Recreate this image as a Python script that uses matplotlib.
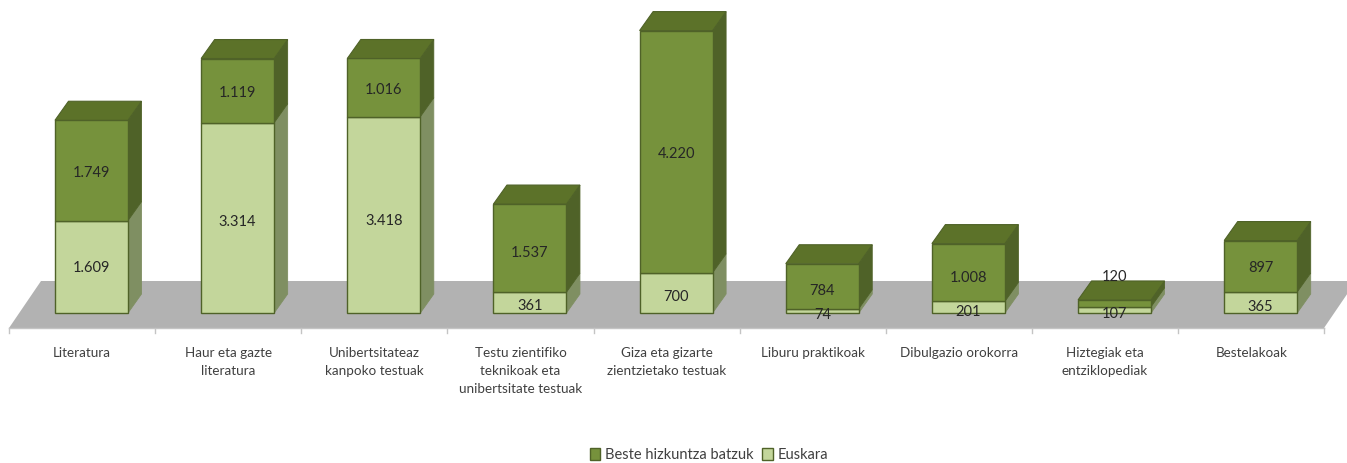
import matplotlib
matplotlib.use('Agg')
import matplotlib.pyplot as plt
from matplotlib.patches import Patch

categories = ['Literatura', 'Haur eta gazte\nliteratura', 'Unibertsitateaz\nkanpoko testuak',
              'Testu zientifiko\nteknikoak eta\nunibertsitate testuak',
              'Giza eta gizarte\nzientzietako testuak', 'Liburu praktikoak',
              'Dibulgazio orokorra', 'Hiztegiak eta\nentziklopediak', 'Bestelakoak']
euskara = [1609, 3314, 3418, 361, 700, 74, 201, 107, 365]
beste = [1749, 1119, 1016, 1537, 4220, 784, 1008, 120, 897]

W, H = 1347, 463
PX_PER_CAT = 146.15
PX_PER_VAL = 0.0574
X0_PX = 91.5   # centre of first bar
Y0_PX = 313    # base of the bars


# pixel position to data position, only for the fake 3D frame
def px_x(p):
    return (p - X0_PX) / PX_PER_CAT


def px_y(p):
    return (Y0_PX - p) / PX_PER_VAL


plt.rcParams['font.family'] = 'Lato'

fig = plt.figure(figsize=(W / 100, H / 100), dpi=100)
ax = fig.add_axes([0, 0, 1, 1])
ax.set_xlim(px_x(0), px_x(W))
ax.set_ylim(px_y(H), px_y(0))
ax.axis('off')

# floor
ax.fill([px_x(9), px_x(1324), px_x(1356), px_x(41)],
        [px_y(328), px_y(328), px_y(281), px_y(281)], color='#b2b2b2', lw=0, zorder=1)
ax.plot([px_x(9), px_x(1324)], [px_y(328), px_y(328)], color='#c4c4c4', lw=1, zorder=1)
for i in range(len(categories) + 1):
    tx = px_x(9 + i * PX_PER_CAT)
    ax.plot([tx, tx], [px_y(328), px_y(333)], color='#c4c4c4', lw=1, zorder=1)

bar_w = 73 / PX_PER_CAT
dx = 13.5 / PX_PER_CAT
dy = 19 / PX_PER_VAL
edge = '#4f6228'


def draw_segment(i, bottom, height, front, side, z):
    right = i + bar_w / 2
    top = bottom + height
    ax.fill([right, right + dx, right + dx, right], [bottom, bottom + dy, top + dy, top],
            facecolor=side, edgecolor=side, lw=0.6, zorder=z)
    ax.bar(i, height, bar_w, bottom=bottom, color=front, edgecolor=edge, lw=1.0, zorder=z + 0.1)


for i in range(len(categories)):
    z = 2 + i
    draw_segment(i, 0, euskara[i], '#c3d69b', '#7f8f62', z)
    draw_segment(i, euskara[i], beste[i], '#76923c', '#4f6228', z + 0.2)
    left = i - bar_w / 2
    right = i + bar_w / 2
    total = euskara[i] + beste[i]
    ax.fill([left, right, right + dx, left + dx], [total, total, total + dy, total + dy],
            facecolor='#5c7229', edgecolor='#4f6228', lw=0.8, zorder=z + 0.4)

# value labels, a few are pushed off the centre like in the original (offsets in px)
low_nudge = {1: -3, 2: -5, 3: -2, 4: -3, 5: -3, 6: -3, 7: -3, 8: -3}
top_nudge = {0: -1, 1: -1, 2: -1, 3: -3, 4: -1, 5: -3, 6: -4, 7: 28}
for i in range(len(categories)):
    ax.annotate(f'{euskara[i]:,}'.replace(',', '.'), (i, euskara[i] / 2),
                xytext=(0, (low_nudge.get(i, 0) - 1.5) * 0.72), textcoords='offset points',
                ha='center', va='center', fontsize=10.5, color='#262626', zorder=20)
    ax.annotate(f'{beste[i]:,}'.replace(',', '.'), (i, euskara[i] + beste[i] / 2),
                xytext=(0, (top_nudge.get(i, 0) - 1.5) * 0.72), textcoords='offset points',
                ha='center', va='center', fontsize=10.5, color='#262626', zorder=20)

# category labels
for i, name in enumerate(categories):
    ax.text(px_x(82 + i * PX_PER_CAT), px_y(347), name, ha='center', va='top',
            fontsize=9.7, color='#404040', linespacing=1.58)

handles = [Patch(facecolor='#76923c', edgecolor=edge, label='Beste hizkuntza batzuk'),
           Patch(facecolor='#c3d69b', edgecolor=edge, label='Euskara')]
ax.legend(handles=handles, loc='center', bbox_to_anchor=(709 / W, 1 - 455 / H), ncol=2,
          frameon=False, fontsize=10.5, handlelength=0.7, handleheight=0.8, handletextpad=0.35,
          columnspacing=0.6, labelcolor='#404040', borderpad=0)

plt.savefig('out.png', dpi=100)
